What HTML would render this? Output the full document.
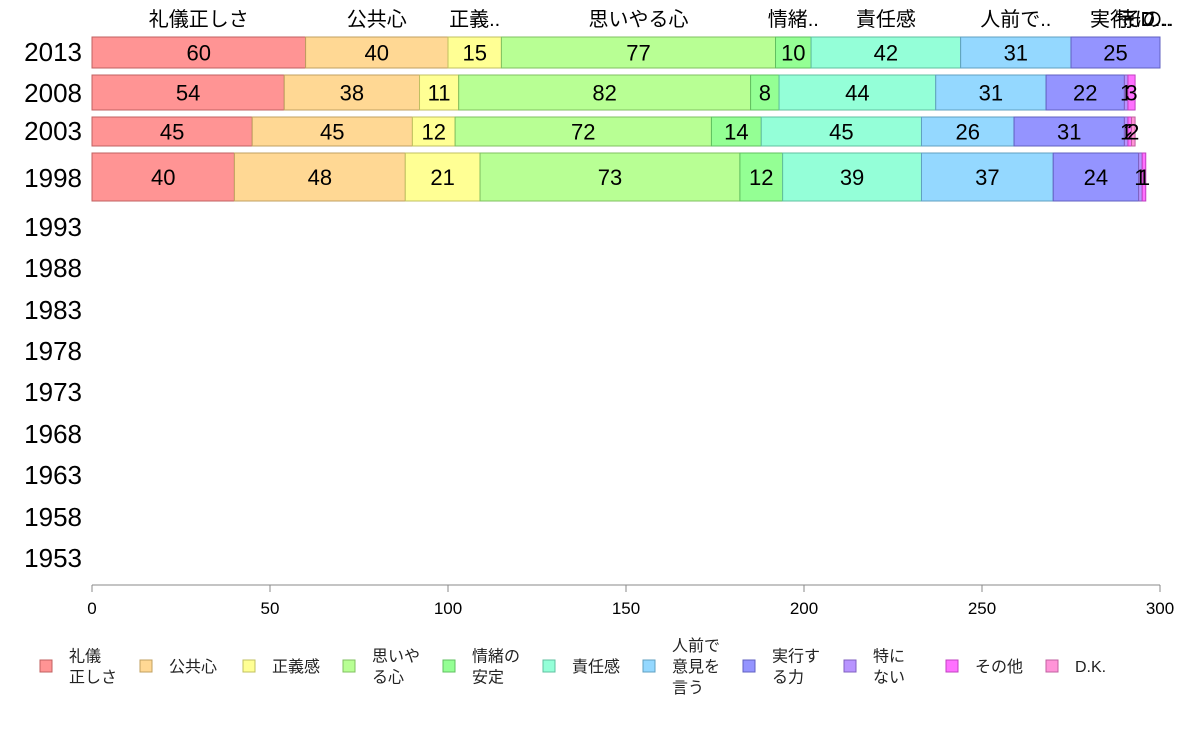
<!DOCTYPE html>
<html><head><meta charset="utf-8">
<style>
html,body{margin:0;padding:0;background:#fff;}
svg{display:block;font-family:"Liberation Sans","Noto Sans CJK JP",sans-serif;}
</style></head>
<body>
<svg id="chart" width="1188" height="736" viewBox="0 0 1188 736" xmlns="http://www.w3.org/2000/svg"></svg>
<script>
const categories = ["礼儀正しさ","公共心","正義感","思いやる心","情緒の安定","責任感","人前で意見を言う","実行する力","特にない","その他","D.K."];
const topLabels = ["礼儀正しさ","公共心","正義..","思いやる心","情緒..","責任感","人前で..","実行..","特に..","その..","D..."];
const legendLabels = [["礼儀","正しさ"],["公共心"],["正義感"],["思いや","る心"],["情緒の","安定"],["責任感"],["人前で","意見を","言う"],["実行す","る力"],["特に","ない"],["その他"],["D.K."]];
const years = ["2013","2008","2003","1998","1993","1988","1983","1978","1973","1968","1963","1958","1953"];
const v2013 = [60,40,15,77,10,42,31,25,0,0,0];
const v2008 = [54,38,11,82,8,44,31,22,1,2,0];
const v2003 = [45,45,12,72,14,45,26,31,1,1,1];
const v1998 = [40,48,21,73,12,39,37,24,1,1,0];
const v2008Labels = [54,38,11,82,8,44,31,22,1,3,null];
const v2003Labels = [45,45,12,72,14,45,26,31,1,2,2];
const series = [v2013,v2008,v2003,v1998];
const seriesLabels = [v2013,v2008Labels,v2003Labels,v1998];
const xTicks = [0,50,100,150,200,250,300];

const fills = ["#ff9494","#ffd894","#ffff94","#b8ff94","#94ff94","#94ffd8","#94d8ff","#9494ff","#b894ff","#ff70ff","#ff94d8"];
const strokes = ["#c06060","#c0a060","#c0c060","#80c060","#60c060","#60c0a0","#60a0c0","#6060c0","#8060c0","#c040c0","#c060a0"];

const NS="http://www.w3.org/2000/svg";
const svg=document.getElementById('chart');
const X0=92, X1=1160, XMAX=300;
const xs=v=>X0+(v/XMAX)*(X1-X0);
const rowTop=[37,75,117,153,null,null,null,null,null,null,null,null,null];
const rowH=[31,35,29,48];
const yearY=[52,93,131,178,227,268,310,351,392,434,475,517,558];
function mk(tag,attrs,parent){const e=document.createElementNS(NS,tag);for(const k in attrs)e.setAttribute(k,attrs[k]);(parent||svg).appendChild(e);return e;}

// top labels
let acc=0;
v2013.forEach((v,i)=>{
  const t=mk('text',{x:Math.min(xs(acc+v/2), 1140+ (i-8)*8), y:26,'font-size':20,'text-anchor':'middle',fill:'#000'});
  
  
  t.textContent=topLabels[i];
  acc+=v;
});

// year labels
years.forEach((y,i)=>{
  const t=mk('text',{x:82,y:yearY[i]+9,'font-size':26,'text-anchor':'end',fill:'#000'});
  
  
  t.textContent=y;
});

// bars
series.forEach((vals,r)=>{
  let a=0;
  const top=rowTop[r], h=rowH[r];
  vals.forEach((v,i)=>{
    if(v<=0){return;}
    const rect=mk('rect',{x:xs(a),y:top,width:xs(a+v)-xs(a),height:h,fill:fills[i],stroke:strokes[i],'stroke-width':1});
    
    
    const lab=seriesLabels[r][i];
    if(lab!==null&&lab!==undefined){
      const t=mk('text',{x:xs(a+v/2),y:top+h/2+8,'font-size':22,'text-anchor':'middle',fill:'#000'});
      
      
      t.textContent=lab;
    }
    a+=v;
  });
});

// x axis
const ax=mk('line',{x1:X0,y1:585,x2:X1,y2:585,stroke:'#888','stroke-width':1});


xTicks.forEach(v=>{
  const l=mk('line',{x1:xs(v),y1:585,x2:xs(v),y2:592,stroke:'#888'});
  
  
  const t=mk('text',{x:xs(v),y:614,'font-size':17,'text-anchor':'middle',fill:'#000'});
  
  
  t.textContent=v;
});

// legend
const legSwX=[40,140,243,343,443,543,643,743,844,946,1046];
legendLabels.forEach((lines,i)=>{
  const g=mk('g',{});
  
  
  mk('rect',{x:legSwX[i],y:660,width:12,height:12,fill:fills[i],stroke:strokes[i]},g);
  const n=lines.length;
  const startY=666-(n-1)*10.5+6;
  lines.forEach((ln,j)=>{
    const t=mk('text',{x:legSwX[i]+29,y:startY+j*21,'font-size':16,fill:'#222'},g);
    t.textContent=ln;
  });
});
</script>
</body></html>
